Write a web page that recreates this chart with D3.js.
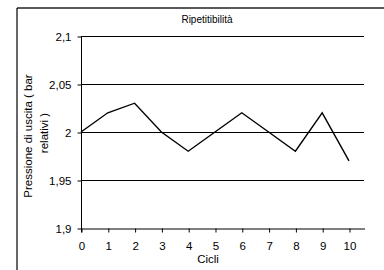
<!DOCTYPE html>
<html>
<head>
<meta charset="utf-8">
<script src="https://cdn.jsdelivr.net/npm/d3@7"></script>
<style>
    body { margin: 0; background: #fff; }
    text { font-family: "Liberation Sans", Arial, sans-serif; fill: #000; }
</style>
</head>
<body>
<div id="chart"></div>
<script>
var cicli = [0, 1, 2, 3, 4, 5, 6, 7, 8, 9, 10];
var pressione = [2.00, 2.02, 2.03, 2.00, 1.98, 2.00, 2.02, 2.00, 1.98, 2.02, 1.97];
var yTicks = [1.9, 1.95, 2.0, 2.05, 2.1];

var width = 384;
var height = 270;

var svg = d3.select("#chart")
    .append("svg")
    .attr("width", width)
    .attr("height", height);

// chart frame (only top and left visible)
svg.append("line")
    .attr("x1", 17).attr("x2", width)
    .attr("y1", 8).attr("y2", 8)
    .style("stroke", "#5a5a5a")
    .style("stroke-width", 2);
svg.append("line")
    .attr("x1", 17).attr("x2", 17)
    .attr("y1", 8).attr("y2", height)
    .style("stroke", "#000")
    .style("stroke-width", 1.2);

var x = d3.scaleLinear()
    .domain([0, 10.56])
    .range([81, 364]);

var y = d3.scaleLinear()
    .domain([1.9, 2.1])
    .range([228, 36]);

var fmt = function (d) { return String(+d.toFixed(2)).replace(".", ","); };

// gridlines
svg.append("g")
    .selectAll("line")
    .data(yTicks.slice(1))
    .enter()
    .append("line")
    .attr("x1", x(0))
    .attr("x2", x.range()[1])
    .attr("y1", function (d) { return y(d) + 0.5; })
    .attr("y2", function (d) { return y(d) + 0.5; })
    .style("stroke", "#000")
    .style("stroke-width", 1);

var yAxis = d3.axisLeft(y)
    .tickValues(yTicks)
    .tickSize(4)
    .tickSizeOuter(0)
    .tickPadding(6)
    .tickFormat(fmt);

svg.append("g")
    .attr("transform", "translate(" + (x(0) + 0.5) + ",0.5)")
    .call(yAxis)
    .call(function (g) {
        g.select(".domain").attr("d", "M0," + y(2.1) + "V" + (y(1.9) + 4));
        g.selectAll("text").style("font-size", "11.5px").attr("font-family", null);
    });

var xAxis = d3.axisBottom(x)
    .tickValues(cicli)
    .tickSize(4)
    .tickSizeOuter(0)
    .tickPadding(9)
    .tickFormat(d3.format("d"));

svg.append("g")
    .attr("transform", "translate(0.5," + (y(1.9) + 0.5) + ")")
    .call(xAxis)
    .call(function (g) {
        g.selectAll("text").style("font-size", "11.5px").attr("font-family", null);
    });

svg.selectAll(".domain, .tick line").style("stroke", "#000");

// data line
var line = d3.line()
    .x(function (d, i) { return x(cicli[i]); })
    .y(function (d) { return y(d); });

svg.append("path")
    .datum(pressione)
    .attr("d", line)
    .style("fill", "none")
    .style("stroke", "#000")
    .style("stroke-width", 1.4);

// titles
svg.append("text")
    .attr("x", 207)
    .attr("y", 23)
    .attr("text-anchor", "middle")
    .style("font-size", "10px")
    .text("Ripetitibilità");

svg.append("text")
    .attr("x", 208)
    .attr("y", 263)
    .attr("text-anchor", "middle")
    .style("font-size", "11.5px")
    .text("Cicli");

var yTitle = svg.append("text")
    .attr("transform", "translate(0,138) rotate(-90)")
    .attr("text-anchor", "middle")
    .style("font-size", "11.5px");
yTitle.append("tspan").attr("x", 2).attr("y", 32).text("Pressione di uscita ( bar");
yTitle.append("tspan").attr("x", 5).attr("y", 48).text("relativi )");
</script>
</body>
</html>
